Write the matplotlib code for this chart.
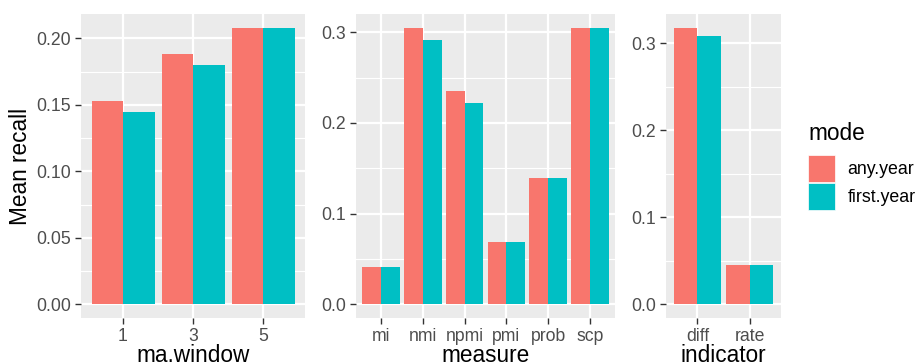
import matplotlib
matplotlib.use('Agg')
import matplotlib.pyplot as plt
from matplotlib.patches import Patch
import numpy as np

plt.rcParams['font.family'] = ['Liberation Sans', 'DejaVu Sans']

# ===== data =====
windows = ['1', '3', '5']
win_any = [0.153, 0.188, 0.208]
win_first = [0.145, 0.180, 0.208]

measures = ['mi', 'nmi', 'npmi', 'pmi', 'prob', 'scp']
meas_any = [0.041, 0.305, 0.235, 0.069, 0.139, 0.305]
meas_first = [0.041, 0.292, 0.222, 0.069, 0.139, 0.305]

indicators = ['diff', 'rate']
ind_any = [0.318, 0.045]
ind_first = [0.309, 0.045]

modes = ['any.year', 'first.year']
colors = ['#F8766D', '#00BFC4']

W, H = 919, 364
AX_BOTTOM, AX_H = 318, 304
fig = plt.figure(figsize=(W / 100, H / 100), dpi=100)


def panel(left, width, cats, any_vals, first_vals, major, minor, fmt, xlabel, ylabel=None):
    ax = fig.add_axes([left / W, (H - AX_BOTTOM) / H, width / W, AX_H / H])
    ax.set_facecolor('#EBEBEB')
    x = np.arange(len(cats))
    ax.bar(x - 0.225, any_vals, width=0.45, color=colors[0], zorder=3)
    ax.bar(x + 0.225, first_vals, width=0.45, color=colors[1], zorder=3)
    top = max(max(any_vals), max(first_vals))
    ax.set_ylim(-0.05 * top, 1.05 * top)
    ax.set_xlim(-0.6, len(cats) - 0.4)
    ax.set_yticks(major)
    ax.set_yticklabels([fmt % v for v in major])
    ax.set_yticks(minor, minor=True)
    ax.set_xticks(x)
    ax.set_xticklabels(cats)
    ax.grid(True, which='major', color='white', linewidth=1.6, zorder=1)
    ax.grid(True, which='minor', axis='y', color='white', linewidth=0.8, zorder=1)
    ax.set_axisbelow(True)
    for s in ax.spines.values():
        s.set_visible(False)
    ax.tick_params(which='major', length=4, width=1, color='#333333',
                   labelsize=12.7, labelcolor='#4D4D4D', pad=3)
    ax.tick_params(which='minor', length=0)
    # x title: baseline just above the bottom edge, like the reference
    ax.set_xlabel(xlabel, fontsize=16.3, va='baseline')
    ax.xaxis.set_label_coords(0.5, -(362.5 - AX_BOTTOM) / AX_H)
    if ylabel:
        ax.set_ylabel(ylabel, fontsize=16.3, va='center')
        ax.yaxis.set_label_coords((21 - left) / width, 0.5)
    return ax


panel(81, 224, windows, win_any, win_first,
      [0, 0.05, 0.10, 0.15, 0.20], [0.025, 0.075, 0.125, 0.175],
      '%.2f', 'ma.window', 'Mean recall')
panel(356, 259, measures, meas_any, meas_first,
      [0, 0.1, 0.2, 0.3], [0.05, 0.15, 0.25], '%.1f', 'measure')
panel(666, 115, indicators, ind_any, ind_first,
      [0, 0.1, 0.2, 0.3], [0.05, 0.15, 0.25], '%.1f', 'indicator')

# legend (title drawn separately for ggplot-like spacing)
fig.text(808 / W, 1 - 139.5 / H, 'mode', fontsize=16.3, va='baseline', ha='left')
handles = [Patch(facecolor=c, edgecolor='white', linewidth=0.5) for c in colors]
fig.legend(handles, modes, loc='upper left',
           bbox_to_anchor=(808 / W, 1 - 155 / H), frameon=False,
           fontsize=12.8, handlelength=1.52, handleheight=1.96,
           handletextpad=0.7, labelspacing=0.05, borderpad=0,
           borderaxespad=0)

fig.savefig('out.png', dpi=100)
